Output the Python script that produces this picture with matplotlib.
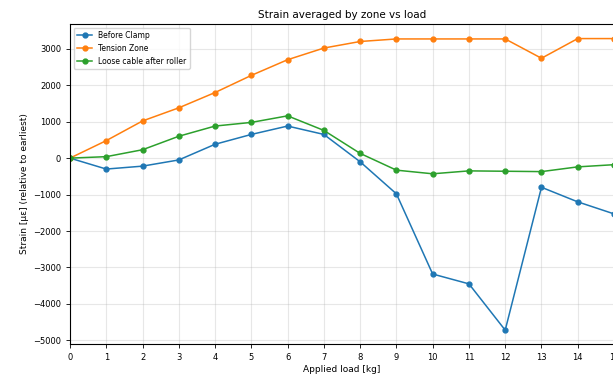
import matplotlib
matplotlib.use("Agg")
import matplotlib.pyplot as plt

loads = list(range(16))
before_clamp = [0, -300, -220, -50, 380, 650, 880, 650, -100, -980, -3180, -3450, -4720, -800, -1200, -1530]
tension_zone = [0, 480, 1020, 1380, 1800, 2270, 2700, 3020, 3200, 3270, 3270, 3270, 3270, 2740, 3280, 3280]
loose_cable = [0, 40, 230, 600, 880, 980, 1160, 760, 130, -330, -430, -350, -360, -370, -240, -180]
labels = ["Before Clamp", "Tension Zone", "Loose cable after roller"]

fig = plt.figure(figsize=(6.13, 3.78), dpi=100)
ax = fig.add_axes([70/613, 1-344/378, 544/613, 320/378])

for ys, lab, c in zip([before_clamp, tension_zone, loose_cable], labels,
                      ["#1f77b4", "#ff7f0e", "#2ca02c"]):
    ax.plot(loads, ys, marker="o", markersize=3.5, linewidth=1.1, color=c, label=lab)

ax.set_xlim(0, 15)
ax.set_xticks(range(16))
ax.set_ylim(-5100, 3680)
ax.set_yticks(range(-5000, 3001, 1000))
ax.grid(True, alpha=0.3)
ax.tick_params(labelsize=6, length=3, width=0.6)
for s in ax.spines.values():
    s.set_linewidth(0.8)
ax.set_title("Strain averaged by zone vs load", fontsize=7.5, pad=4)
ax.set_xlabel("Applied load [kg]", fontsize=6.5, labelpad=2)
ax.set_ylabel("Strain [µε] (relative to earliest)", fontsize=6.5, labelpad=3)
ax.legend(loc="upper left", fontsize=5.5, frameon=True)

fig.savefig("out.png", dpi=100)
